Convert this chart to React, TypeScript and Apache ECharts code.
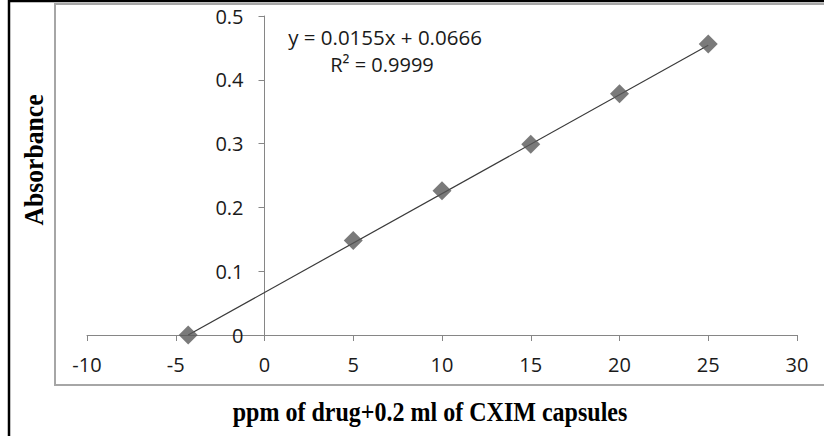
import React, { useEffect, useRef } from "react";
import * as echarts from "echarts";

const concentrations = [-4.3, 5, 10, 15, 20, 25];
const absorbances = [0, 0.148, 0.226, 0.299, 0.378, 0.456];
const trendX = [-4.3, 25];
const trendY = [0, 0.454];
const equationText = "y = 0.0155x + 0.0666";
const r2Text = "R² = 0.9999";
const xTitle = "ppm of drug+0.2 ml of CXIM capsules";
const yTitle = "Absorbance";

export default function App() {
  const ref = useRef<HTMLDivElement>(null);
  useEffect(() => {
    if (!ref.current) return;
    const chart = echarts.init(ref.current, null, { renderer: "svg" });
    const tickFont = { fontFamily: "Open Sans", fontSize: 20, color: "#1a1a1a" };
    chart.setOption({
      animation: false,
      backgroundColor: "#ffffff",
      grid: { left: 87, right: 27, top: 16, bottom: 101, containLabel: false, outerBoundsMode: "none" },
      xAxis: {
        type: "value",
        min: -10,
        max: 30,
        interval: 5,
        splitLine: { show: false },
        axisLine: { onZero: true, lineStyle: { color: "#868686", width: 1 } },
        axisTick: { show: true, length: 6, lineStyle: { color: "#868686" } },
        axisLabel: { ...tickFont, margin: 19 },
      },
      yAxis: {
        type: "value",
        position: "left",
        offset: -177.5,
        min: 0,
        max: 0.5,
        interval: 0.1,
        splitLine: { show: false },
        axisLine: { show: true, onZero: false, lineStyle: { color: "#868686", width: 1 } },
        axisTick: { show: true, length: 6, lineStyle: { color: "#868686" } },
        axisLabel: { ...tickFont, margin: 21, formatter: (v: number) => (v === 0 ? "0" : v.toFixed(1)) },
      },
      series: [
        {
          type: "line",
          data: trendX.map((x, i) => [x, trendY[i]]),
          showSymbol: false,
          symbol: "none",
          lineStyle: { color: "#3a3a3a", width: 1.2 },
          z: 2,
        },
        {
          type: "scatter",
          data: concentrations.map((x, i) => [x, absorbances[i]]),
          symbol: "diamond",
          symbolSize: 19,
          itemStyle: { color: "#595959" },
          z: 3,
        },
      ],
      graphic: [
        {
          type: "rect",
          shape: { x: 9, y: 1, width: 900, height: 600 },
          style: { fill: "none", stroke: "#000000", lineWidth: 2.5 },
          silent: true,
        },
        {
          type: "rect",
          shape: { x: 55, y: 4, width: 900, height: 381 },
          style: { fill: "none", stroke: "#a6a6a6", lineWidth: 2 },
          silent: true,
        },
        {
          type: "text",
          x: 385,
          y: 37,
          style: { text: equationText, font: "20.5px 'Open Sans'", fill: "#1a1a1a", align: "center", verticalAlign: "middle" },
        },
        {
          type: "text",
          x: 382,
          y: 64,
          style: { text: r2Text, font: "20px 'Open Sans'", fill: "#1a1a1a", align: "center", verticalAlign: "middle" },
        },
        {
          type: "text",
          x: 430,
          y: 412,
          scaleX: 0.89,
          style: { text: xTitle, font: "bold 27px 'Liberation Serif'", fill: "#000000", align: "center", verticalAlign: "middle" },
        },
        {
          type: "text",
          x: 34,
          y: 160,
          rotation: Math.PI / 2,
          scaleX: 0.95,
          style: { text: yTitle, font: "bold 27px 'Liberation Serif'", fill: "#000000", align: "center", verticalAlign: "middle" },
        },
      ],
    });
    return () => chart.dispose();
  }, []);
  return (
    <div
      ref={ref}
      style={{ position: "fixed", left: 0, top: 0, width: 824, height: 436 }}
    />
  );
}
